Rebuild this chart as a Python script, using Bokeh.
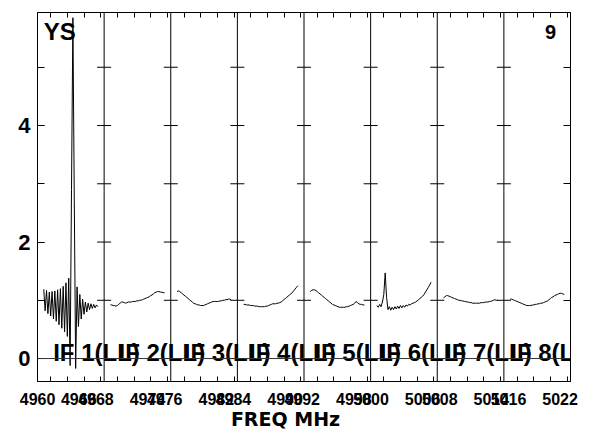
from bokeh.plotting import figure
from bokeh.models import (Range1d, LinearAxis, FixedTicker, Span, Label)
from bokeh.embed import file_html
from bokeh.resources import INLINE

# ---------------- data ----------------
IF_NAMES = ["IF 1(LL)", "IF 2(LL)", "IF 3(LL)", "IF 4(LL)",
            "IF 5(LL)", "IF 6(LL)", "IF 7(LL)", "IF 8(LL)"]
IF_START_MHZ = [4958.4, 4966.4, 4974.4, 4982.4, 4990.4, 4998.4, 5006.4, 5014.4]
IF_BW_MHZ = 8.0
CHAN_W_MHZ = 8.0 / 48
FIRST_CHAN = 4

amp_if1 = [1.19, 0.82, 1.17, 0.77, 1.14, 0.73, 1.15, 0.68, 1.16, 0.64,
           1.18, 0.58, 1.20, 0.52, 1.24, 0.46, 1.30, 0.38, 1.38, -0.12,
           2.90, 5.85, 2.70, -0.17, 1.23, 0.55, 1.10, 0.68, 1.02, 0.76,
           0.97, 0.80, 0.95, 0.84, 0.94, 0.86, 0.93, 0.87, 0.92, 0.89]
amp_if2 = [0.92, 0.92, 0.91, 0.91, 0.90, 0.91, 0.93, 0.95, 0.97, 0.97,
           0.96, 0.95, 0.96, 0.97, 0.97, 0.97, 0.98, 0.98, 0.98, 0.99,
           0.99, 1.00, 1.00, 1.01, 1.02, 1.03, 1.04, 1.05, 1.06, 1.08,
           1.09, 1.11, 1.13, 1.14, 1.15, 1.15, 1.14, 1.14, 1.13, 1.13]
amp_if3 = [1.15, 1.16, 1.15, 1.13, 1.11, 1.09, 1.07, 1.05, 1.03, 1.01,
           0.99, 0.97, 0.95, 0.94, 0.93, 0.92, 0.92, 0.91, 0.91, 0.91,
           0.92, 0.93, 0.94, 0.95, 0.96, 0.97, 0.98, 0.98, 0.98, 0.98,
           0.98, 0.99, 0.99, 1.00, 1.00, 1.01, 1.01, 1.02, 1.02, 1.01]
amp_if4 = [0.93, 0.93, 0.92, 0.92, 0.92, 0.91, 0.91, 0.91, 0.90, 0.90,
           0.90, 0.89, 0.89, 0.89, 0.89, 0.89, 0.90, 0.90, 0.91, 0.92,
           0.93, 0.94, 0.94, 0.94, 0.95, 0.95, 0.96, 0.97, 0.99, 1.01,
           1.03, 1.05, 1.07, 1.09, 1.11, 1.13, 1.16, 1.19, 1.22, 1.25]
amp_if5 = [1.15, 1.17, 1.18, 1.18, 1.17, 1.15, 1.13, 1.11, 1.09, 1.07,
           1.05, 1.03, 1.01, 0.99, 0.97, 0.95, 0.93, 0.92, 0.91, 0.90,
           0.89, 0.88, 0.88, 0.88, 0.88, 0.88, 0.89, 0.89, 0.90, 0.91,
           0.92, 0.93, 0.95, 0.98, 0.96, 0.94, 0.93, 0.93, 0.92, 0.92]
amp_if6 = [0.91, 0.88, 0.93, 0.89, 0.97, 1.10, 1.47, 1.05, 0.84, 0.89,
           0.83, 0.88, 0.84, 0.89, 0.85, 0.90, 0.86, 0.91, 0.87, 0.91,
           0.88, 0.92, 0.90, 0.93, 0.92, 0.94, 0.95, 0.96, 0.97, 0.99,
           1.01, 1.03, 1.05, 1.07, 1.10, 1.14, 1.18, 1.22, 1.26, 1.31]
amp_if7 = [1.04, 1.06, 1.08, 1.08, 1.07, 1.06, 1.05, 1.04, 1.03, 1.02,
           1.01, 1.00, 1.00, 0.99, 0.99, 0.98, 0.98, 0.97, 0.97, 0.96,
           0.96, 0.95, 0.95, 0.95, 0.95, 0.95, 0.95, 0.96, 0.96, 0.96,
           0.97, 0.97, 0.97, 0.98, 0.98, 0.99, 1.00, 1.01, 1.00, 1.00]
amp_if8 = [1.02, 1.02, 1.01, 1.00, 0.99, 0.98, 0.97, 0.96, 0.95, 0.94,
           0.93, 0.92, 0.91, 0.91, 0.91, 0.91, 0.92, 0.92, 0.93, 0.93,
           0.94, 0.94, 0.95, 0.95, 0.96, 0.97, 0.98, 0.99, 1.01, 1.03,
           1.05, 1.06, 1.08, 1.09, 1.10, 1.11, 1.12, 1.12, 1.11, 1.10]
AMPS = [amp_if1, amp_if2, amp_if3, amp_if4, amp_if5, amp_if6, amp_if7, amp_if8]

TICK_FREQS = [4960, 4962, 4964, 4966, 4968, 4970, 4972, 4974,
              4976, 4978, 4980, 4982, 4984, 4986, 4988, 4990,
              4992, 4994, 4996, 4998, 5000, 5002, 5004, 5006,
              5008, 5010, 5012, 5014, 5016, 5018, 5020, 5022]
LABELED_FREQS = [4960, 4966, 4968, 4974, 4976, 4982, 4984, 4990,
                 4992, 4998, 5000, 5006, 5008, 5014, 5016, 5022]
Y_TICKS = [0, 1, 2, 3, 4, 5]
Y_LABELED = [0, 2, 4]
Y_MIN, Y_MAX = -0.394, 5.94

SOURCE_NAME = "YS"
PLOT_NUMBER = "9"
X_TITLE = "FREQ MHz"

FONT = "Liberation Sans"

# ---------------- layout constants (pixels) ----------------
W, H = 608, 434
FRAME_L, FRAME_R, FRAME_T, FRAME_B = 37, 570, 12, 381

X_MIN = IF_START_MHZ[0]
X_MAX = IF_START_MHZ[-1] + IF_BW_MHZ
PX_PER_MHZ = (FRAME_R - FRAME_L) / (X_MAX - X_MIN)
PX_PER_UNIT = (FRAME_B - FRAME_T) / (Y_MAX - Y_MIN)


def px_to_mhz(px):
    return X_MIN + (px - FRAME_L) / PX_PER_MHZ


def mhz_to_px(f):
    return FRAME_L + (f - X_MIN) * PX_PER_MHZ


def py_to_val(py):
    return Y_MIN + (FRAME_B - py) / PX_PER_UNIT


p = figure(width=W, height=H, output_backend="svg", toolbar_location=None,
           x_range=Range1d(X_MIN, X_MAX), y_range=Range1d(Y_MIN, Y_MAX),
           x_axis_type=None, y_axis_type=None,
           min_border_left=FRAME_L, min_border_right=W - FRAME_R,
           min_border_top=FRAME_T, min_border_bottom=H - FRAME_B)
p.outline_line_color = "black"
p.outline_line_width = 1
p.background_fill_color = "white"
p.border_fill_color = "white"


def base_axis(ax, tick_len):
    ax.axis_line_color = "black"
    ax.major_tick_line_color = "black"
    ax.minor_tick_line_color = "black"
    ax.major_tick_in = tick_len
    ax.major_tick_out = 0
    ax.minor_tick_in = tick_len
    ax.minor_tick_out = 0
    return ax


def text_only_axis(ax):
    ax.axis_line_color = None
    ax.major_tick_line_color = None
    ax.minor_tick_line_color = None
    ax.major_tick_in = 0
    ax.major_tick_out = 0
    ax.minor_tick_in = 0
    ax.minor_tick_out = 0
    return ax


# left axis: labels 0, 2, 4 ; ticks at every unit
left = base_axis(LinearAxis(ticker=FixedTicker(ticks=Y_LABELED, minor_ticks=Y_TICKS)), 7)
left.major_label_text_font = FONT
left.major_label_text_font_style = "bold"
left.major_label_text_font_size = "22px"
left.major_label_text_color = "black"
left.major_label_standoff = 7
p.add_layout(left, "left")

right = base_axis(LinearAxis(ticker=FixedTicker(ticks=[], minor_ticks=Y_TICKS)), 7)
p.add_layout(right, "right")
top = base_axis(LinearAxis(ticker=FixedTicker(ticks=[], minor_ticks=TICK_FREQS)), 5)
p.add_layout(top, "above")

# bottom axis: tick marks every 2 MHz; AIPS-style labels (slightly spread,
# kept inside the axis range)
lab_center_px = [26.7 + (mhz_to_px(f) - mhz_to_px(LABELED_FREQS[0])) * 1.032
                 for f in LABELED_FREQS]
lab_x = [px_to_mhz(max(px, FRAME_L + 0.05)) for px in lab_center_px]
bottom = base_axis(LinearAxis(ticker=FixedTicker(ticks=lab_x, minor_ticks=TICK_FREQS)), 5)
bottom.major_tick_in = 0
bottom.major_label_overrides = {x: str(f) for x, f in zip(lab_x, LABELED_FREQS)}
bottom.major_label_text_font = FONT
bottom.major_label_text_font_style = "bold"
bottom.major_label_text_font_size = "16px"
bottom.major_label_text_color = "black"
bottom.major_label_standoff = 11
p.add_layout(bottom, "below")

# x-axis title as a text-only axis row below the frequency labels
title_x = px_to_mhz(285)
title_axis = text_only_axis(LinearAxis(ticker=FixedTicker(ticks=[title_x])))
title_axis.major_label_overrides = {title_x: X_TITLE}
title_axis.major_label_text_font = "DejaVu Sans"
title_axis.major_label_text_font_style = "bold"
title_axis.major_label_text_font_size = "19px"
title_axis.major_label_text_color = "black"
title_axis.major_label_standoff = 0
p.add_layout(title_axis, "below")

# IF names: text-only axis fixed inside the frame
if_centers = [px_to_mhz(52.7 + 65.3 * k + 43.3) for k in range(len(IF_NAMES))]
if_axis = text_only_axis(LinearAxis(ticker=FixedTicker(ticks=if_centers),
                                    fixed_location=py_to_val(338.3)))
if_axis.major_label_overrides = {x: n for x, n in zip(if_centers, IF_NAMES)}
if_axis.major_label_text_font = FONT
if_axis.major_label_text_font_style = "bold"
if_axis.major_label_text_font_size = "24px"
if_axis.major_label_text_color = "black"
if_axis.major_label_standoff = 0
p.add_layout(if_axis, "below")

# panel separators and zero line
for f in IF_START_MHZ[1:]:
    p.add_layout(Span(location=f, dimension="height", line_color="black", line_width=1))
p.add_layout(Span(location=0, dimension="width", line_color="#333333", line_width=1))

# y ticks crossing the panel separators
bx = [f for f in IF_START_MHZ[1:] for _ in Y_TICKS]
by = [y for _ in IF_START_MHZ[1:] for y in Y_TICKS]
p.scatter(bx, by, marker="dash", size=14, line_color="black", line_width=1)

# spectra
for start, amp in zip(IF_START_MHZ, AMPS):
    xs = [start + (FIRST_CHAN + k + 0.5) * CHAN_W_MHZ for k in range(len(amp))]
    p.line(xs, amp, line_color="black", line_width=1)

p.add_layout(Label(x=px_to_mhz(43.3), y=Y_MAX, y_offset=-(39.3 - FRAME_T) + 8,
                   text=SOURCE_NAME, text_font=FONT,
                   text_font_style="bold", text_font_size="24px",
                   text_color="black", text_baseline="alphabetic"))
p.add_layout(Label(x=px_to_mhz(555.5), y=Y_MAX, y_offset=-(39 - FRAME_T) + 8,
                   text=PLOT_NUMBER, text_font=FONT,
                   text_font_style="bold", text_font_size="20px",
                   text_color="black", text_baseline="alphabetic",
                   text_align="right"))

open("out.html", "w").write(file_html(p, INLINE))
